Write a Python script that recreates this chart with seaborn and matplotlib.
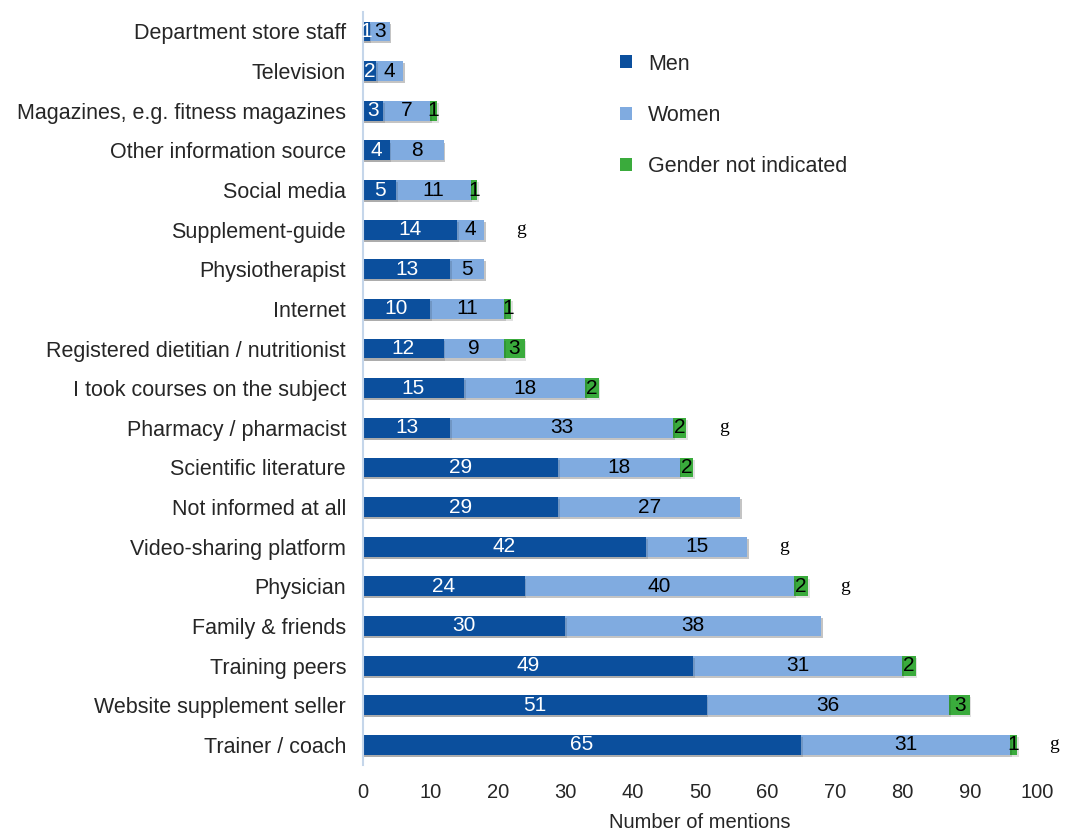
import matplotlib
matplotlib.use("Agg")
import matplotlib.pyplot as plt
import matplotlib.patheffects as pe
from matplotlib.patches import Patch
import numpy as np
import pandas as pd
import seaborn as sns

sources = [
    "Department store staff", "Television", "Magazines, e.g. fitness magazines",
    "Other information source", "Social media", "Supplement-guide",
    "Physiotherapist", "Internet", "Registered dietitian / nutritionist",
    "I took courses on the subject", "Pharmacy / pharmacist", "Scientific literature",
    "Not informed at all", "Video-sharing platform", "Physician", "Family & friends",
    "Training peers", "Website supplement seller", "Trainer / coach",
]
men = [1, 2, 3, 4, 5, 14, 13, 10, 12, 15, 13, 29, 29, 42, 24, 30, 49, 51, 65]
women = [3, 4, 7, 8, 11, 4, 5, 11, 9, 18, 33, 18, 27, 15, 40, 38, 31, 36, 31]
not_indicated = [0, 0, 1, 0, 1, 0, 0, 1, 3, 2, 2, 2, 0, 0, 2, 0, 2, 3, 1]
footnote_g = [False, False, False, False, False, True, False, False, False, False,
              True, False, False, True, True, False, False, False, True]
series_names = ["Men", "Women", "Gender not indicated"]
xticks = [0, 10, 20, 30, 40, 50, 60, 70, 80, 90, 100]

c_men = "#0b4f9d"
c_women = "#80abe0"
c_na = "#3aab3c"

df = pd.DataFrame({"source": sources, "men": men, "women": women, "na": not_indicated})
df["mw"] = df["men"] + df["women"]
df["total"] = df["mw"] + df["na"]

sns.set_style("white")
plt.rcParams["font.family"] = ["Liberation Sans", "DejaVu Sans"]

fig = plt.figure(figsize=(10.67, 8.33), dpi=100)
ax = fig.add_axes([0.340, 0.082, 0.632, 0.904])

shadow = [pe.SimplePatchShadow(offset=(1.2, -1.5), shadow_rgbFace="#000000", alpha=0.12), pe.Normal()]

# cumulative layers drawn back to front give the stacked bars
for col, colr in [("total", c_na), ("mw", c_women), ("men", c_men)]:
    sns.barplot(data=df, x=col, y="source", order=sources, color=colr, orient="h",
                width=0.5, saturation=1, ax=ax, edgecolor="none", linewidth=0)
for p in ax.patches:
    if p.get_width() > 0:
        p.set_path_effects(shadow)

ax.set_xlim(0, 100)
ax.set_ylim(18.5, -0.5)
ax.set_xticks(xticks)
ax.tick_params(axis="x", labelsize=14.5, length=0, pad=13)
ax.tick_params(axis="y", labelsize=15.5, length=0, pad=12)
ax.set_xlabel("Number of mentions", fontsize=14.5, labelpad=8)
ax.set_ylabel("")
for s in ["top", "right", "bottom"]:
    ax.spines[s].set_visible(False)
ax.spines["left"].set_color("#c5d6ea")
ax.spines["left"].set_linewidth(1.5)

fs = 15
for i, r in df.iterrows():
    m, w, n = r["men"], r["women"], r["na"]
    if m > 0:
        ax.text(m / 2, i, str(m), ha="center", va="center", color="white", fontsize=fs)
    if w > 0:
        ax.text(m + w / 2, i, str(w), ha="center", va="center", color="black", fontsize=fs)
    if n > 0:
        ax.text(m + w + n / 2, i, str(n), ha="center", va="center", color="black", fontsize=fs)
    if footnote_g[i]:
        ax.text(r["total"] + 5.5, i, "g", ha="center", va="center",
                fontsize=14, family="Liberation Serif", color="black")

handles = [Patch(facecolor=c, edgecolor="none") for c in (c_men, c_women, c_na)]
fig.legend(handles, series_names, loc="upper left", bbox_to_anchor=(0.573, 0.946),
           frameon=False, fontsize=15.5, handlelength=0.55, handleheight=0.55,
           handletextpad=0.75, labelspacing=1.4, borderaxespad=0)

fig.savefig("out.png", dpi=100)
